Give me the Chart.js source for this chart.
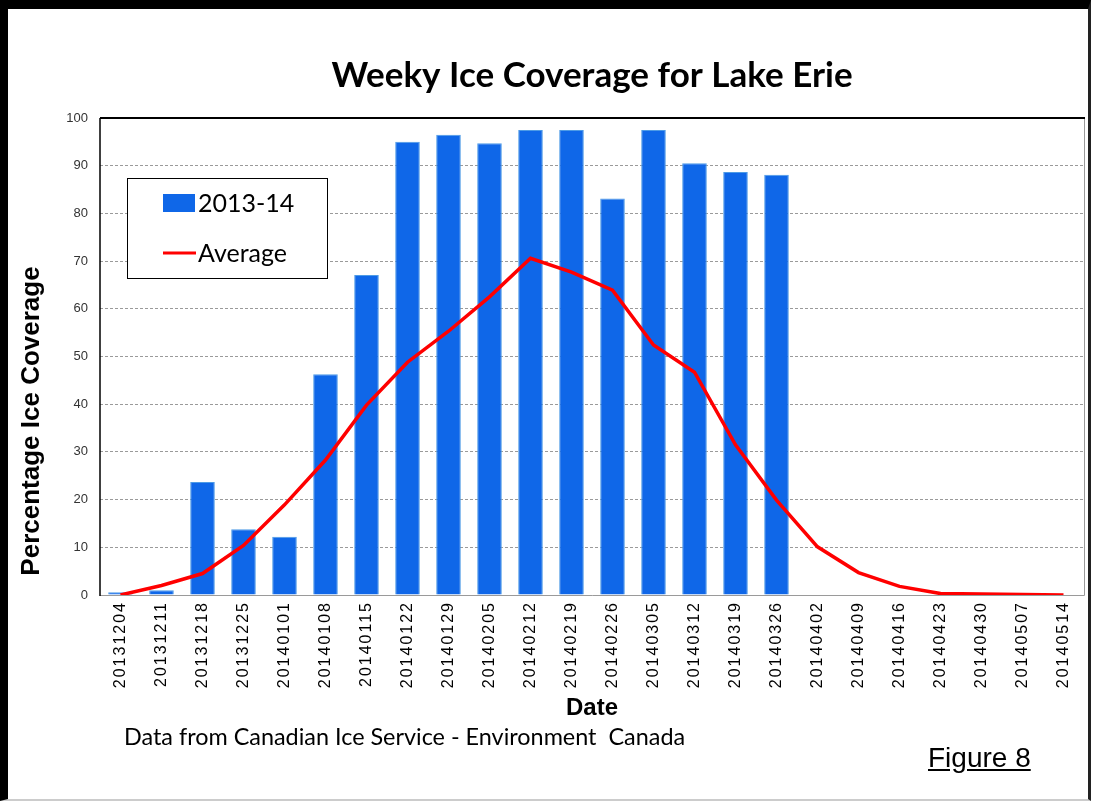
<!DOCTYPE html>
<html>
<head>
<meta charset="utf-8">
<script src="https://cdn.jsdelivr.net/npm/chart.js@4"></script>
<style>
  body { margin: 0; background: #fff; }
  #wrap { position: relative; width: 1099px; height: 803px; overflow: hidden; }
  #frame {
    position: absolute; left: 0; top: 0; width: 1080px; height: 790px;
    border-top: 9px solid #000; border-left: 8px solid #000;
    border-right: 3px solid #222; border-bottom: 2px solid #ccc;
    pointer-events: none;
  }
  .note { position: absolute; color: #000; white-space: nowrap; }
  #ytitle {
    left: -129px; top: 405px; width: 320px; height: 32px; line-height: 32px;
    text-align: center; transform: rotate(-90deg);
    font: bold 26px "Liberation Sans", Arial, sans-serif;
  }
  #source { left: 124px; top: 722px; font: 23.4px Lato, sans-serif; }
  #figure { left: 928px; top: 742px; font: 28px "Liberation Sans", Arial, sans-serif; text-decoration: underline; }
</style>
</head>
<body>
<div id="wrap">
  <canvas id="iceChart" width="1099" height="803"></canvas>
  <div id="frame"></div>
  <div class="note" id="ytitle">Percentage Ice Coverage</div>
  <div class="note" id="source">Data from Canadian Ice Service - Environment&nbsp; Canada</div>
  <div class="note" id="figure">Figure 8</div>
</div>
<script>
const weeks = ['20131204', '20131211', '20131218', '20131225', '20140101', '20140108',
  '20140115', '20140122', '20140129', '20140205', '20140212', '20140219', '20140226',
  '20140305', '20140312', '20140319', '20140326', '20140402', '20140409', '20140416',
  '20140423', '20140430', '20140507', '20140514'];

// weekly coverage for the 2013-14 season (%)
const season2013 = [0.6, 1.0, 23.7, 13.8, 12.2, 46.3, 67.1, 95.0, 96.5, 94.7, 97.5,
  97.5, 83.1, 97.5, 90.5, 88.7, 88.1, null, null, null, null, null, null, null];

// long-term average coverage (%)
const average = [0.0, 2.0, 4.5, 10.4, 18.9, 28.3, 39.8, 48.8, 55.3, 62.5, 70.6, 67.7,
  63.9, 52.4, 46.7, 31.5, 19.9, 10.1, 4.7, 1.8, 0.3, 0.2, 0.1, 0.0];

const yTicks = [0, 10, 20, 30, 40, 50, 60, 70, 80, 90, 100];

const blue = '#0F67E8';
const red = '#FF0000';

// frame round the plot: dark on the top and left, grey on the right and bottom
const plotFrame = {
  id: 'plotFrame',
  afterDatasetsDraw(chart) {
    const { ctx, chartArea: a } = chart;
    ctx.save();
    ctx.lineWidth = 1;
    ctx.strokeStyle = '#9a9a9a';
    ctx.beginPath();
    ctx.moveTo(a.left, a.bottom + 0.5);
    ctx.lineTo(a.right + 0.5, a.bottom + 0.5);
    ctx.lineTo(a.right + 0.5, a.top);
    ctx.stroke();
    ctx.strokeStyle = '#000';
    ctx.lineWidth = 2;
    ctx.beginPath();
    ctx.moveTo(a.left, a.top);
    ctx.lineTo(a.right + 1, a.top);
    ctx.stroke();
    ctx.lineWidth = 1.5;
    ctx.beginPath();
    ctx.moveTo(a.left, a.top);
    ctx.lineTo(a.left, a.bottom + 1);
    ctx.stroke();
    ctx.restore();
  }
};

// boxed legend sitting inside the plot, upper left
const boxLegend = {
  id: 'boxLegend',
  afterDraw(chart) {
    const { ctx, chartArea: a } = chart;
    const x = a.left + 27, y = a.top + 60, w = 200, h = 100;
    ctx.save();
    ctx.fillStyle = '#fff';
    ctx.fillRect(x, y, w, h);
    ctx.strokeStyle = '#000';
    ctx.lineWidth = 1;
    ctx.strokeRect(x + 0.5, y + 0.5, w, h);
    ctx.font = '25px Lato, sans-serif';
    ctx.textBaseline = 'middle';
    chart.data.datasets.forEach((ds, i) => {
      const cy = y + 25 + i * 50;
      if (ds.type === 'line') {
        ctx.strokeStyle = ds.borderColor;
        ctx.lineWidth = 3;
        ctx.beginPath();
        ctx.moveTo(x + 36, cy);
        ctx.lineTo(x + 69, cy);
        ctx.stroke();
      } else {
        ctx.fillStyle = ds.backgroundColor;
        ctx.fillRect(x + 36, cy - 9, 32, 18);
      }
      ctx.fillStyle = '#000';
      ctx.fillText(ds.label, x + 71, cy + 1);
    });
    ctx.restore();
  }
};

// the date labels are spaced out a little, as in the original
function spaceLabels(scale) {
  if (scale._spaced) return;
  const draw = scale.drawLabels.bind(scale);
  scale.drawLabels = (area) => {
    scale.ctx.save();
    scale.ctx.letterSpacing = '2px';
    draw(area);
    scale.ctx.restore();
  };
  scale._spaced = true;
}

new Chart(document.getElementById('iceChart'), {
  data: {
    labels: weeks,
    datasets: [
      {
        type: 'bar',
        label: '2013-14',
        data: season2013,
        backgroundColor: blue,
        borderColor: '#4d9be6',
        borderWidth: 1,
        barPercentage: 0.6,
        categoryPercentage: 1,
        order: 2
      },
      {
        type: 'line',
        label: 'Average',
        data: average,
        borderColor: red,
        borderWidth: 3.5,
        pointRadius: 0,
        tension: 0,
        order: 1
      }
    ]
  },
  options: {
    responsive: false,
    animation: false,
    layout: { padding: { left: 12, right: 15, top: 0, bottom: 80 } },
    plugins: {
      legend: { display: false },
      tooltip: { enabled: false },
      title: {
        display: true,
        fullSize: false,
        text: 'Weeky Ice Coverage for Lake Erie',
        color: '#000',
        font: { family: 'Lato', size: 35, weight: 'bold' },
        padding: { top: 55, bottom: 21 }
      }
    },
    scales: {
      x: {
        grid: { display: false, drawTicks: false },
        border: { display: false },
        ticks: {
          color: '#000',
          minRotation: 90,
          maxRotation: 90,
          padding: 6,
          font: { family: 'Liberation Sans', size: 16 }
        },
        title: {
          display: true,
          text: 'Date',
          color: '#000',
          font: { family: 'Liberation Sans', size: 24, weight: 'bold' },
          padding: { top: 4, bottom: 0 }
        },
        afterFit: (s) => { s.height = 128; spaceLabels(s); }
      },
      y: {
        min: 0,
        max: 100,
        afterBuildTicks: (s) => { s.ticks = yTicks.map((v) => ({ value: v })); },
        grid: {
          color: (c) => (c.tick.value === 0 || c.tick.value === 100 ? 'rgba(0,0,0,0)' : '#9a9a9a'),
          drawTicks: false,
          lineWidth: 1
        },
        border: { display: false, dash: [3, 2] },
        ticks: {
          color: '#333',
          padding: 12,
          font: { family: 'Liberation Sans', size: 13 }
        },
        afterFit: (s) => { s.width = 88; }
      }
    }
  },
  plugins: [plotFrame, boxLegend]
});
</script>
</body>
</html>
